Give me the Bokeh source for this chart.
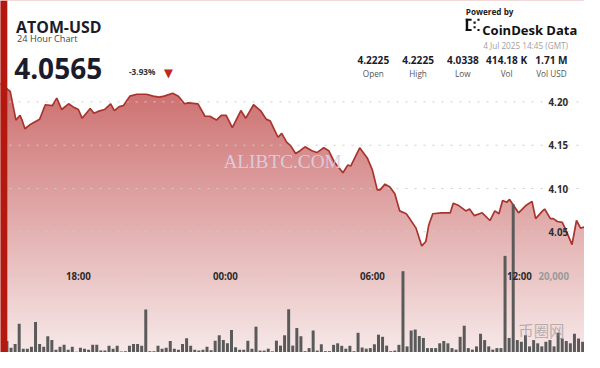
import numpy as np
from bokeh.plotting import figure
from bokeh.models import Range1d, Label, BoxAnnotation
from bokeh.core.properties import value
from bokeh.embed import file_html
from bokeh.resources import INLINE

# ---------------- data ----------------
# price line: minutes since 3 Jul 2025 14:45 (GMT), price in USD
price_min = [0, 28, 42, 52, 57, 64, 76, 88, 100, 114, 131, 142, 154, 171, 185, 195, 204, 224, 233, 243,
             259, 274, 283, 295, 305, 321, 338, 362, 378, 393, 405, 426, 440, 455, 464, 488, 505, 517, 533, 545,
             557, 572, 593, 605, 624, 641, 655, 665, 684, 693, 705, 715, 727, 738, 750, 767, 779, 796, 808, 822,
             843, 855, 862, 884, 903, 915, 927, 934, 946, 958, 970, 982, 998, 1005, 1022, 1036, 1046, 1053, 1063, 1084,
             1106, 1113, 1125, 1144, 1153, 1165, 1184, 1203, 1215, 1225, 1234, 1244, 1251, 1273, 1292, 1306, 1315, 1332, 1337, 1351,
             1358, 1368, 1380, 1387, 1404, 1415, 1425, 1440]
price_usd = [4.2225, 4.2121, 4.1790, 4.1845, 4.1790, 4.1690, 4.1735, 4.1768, 4.1800, 4.1967, 4.1956, 4.2044, 4.1912, 4.1978, 4.1934, 4.1912, 4.1812, 4.1923, 4.1868, 4.1890,
             4.1912, 4.1978, 4.1900, 4.1945, 4.1956, 4.2066, 4.2088, 4.2088, 4.2066, 4.2055, 4.2066, 4.2099, 4.2066, 4.1978, 4.1989, 4.1978, 4.1834, 4.1834, 4.1790, 4.1845,
             4.1845, 4.1702, 4.1900, 4.1812, 4.1967, 4.1900, 4.1801, 4.1779, 4.1592, 4.1636, 4.1536, 4.1492, 4.1404, 4.1437, 4.1481, 4.1437, 4.1415, 4.1470, 4.1437, 4.1305,
             4.1183, 4.1272, 4.1260, 4.1470, 4.1349, 4.1216, 4.0985, 4.0985, 4.1051, 4.1018, 4.0940, 4.0742, 4.0709, 4.0664, 4.0543, 4.0338, 4.0389, 4.0576, 4.0709, 4.0720,
             4.0720, 4.0830, 4.0808, 4.0742, 4.0764, 4.0687, 4.0720, 4.0631, 4.0742, 4.0709, 4.0863, 4.0841, 4.0874, 4.0720, 4.0808, 4.0852, 4.0653, 4.0742, 4.0764, 4.0653,
             4.0653, 4.0620, 4.0609, 4.0543, 4.0352, 4.0631, 4.0543, 4.0565]

# volume per 10-minute bar, first bar starting 15:00
volumes = [3000, 1250, 2250, 7500, 1000, 1000, 1500, 8000, 2250, 1500,
           4250, 3250, 750, 1500, 2000, 750, 1500, 200, 1250, 1000,
           750, 2000, 2000, 500, 500, 1750, 1000, 1750, 250, 300,
           1750, 2250, 2250, 1750, 11250, 300, 300, 1750, 1000, 1250,
           3000, 1000, 750, 2250, 3750, 1750, 750, 500, 750, 1500,
           600, 3100, 4500, 3250, 2400, 5900, 1400, 750, 750, 3100,
           1000, 6750, 500, 500, 1000, 300, 3100, 1800, 4500, 11300,
           1800, 6400, 4250, 350, 1150, 5750, 500, 2150, 350, 350,
           2000, 2400, 1750, 1000, 1750, 350, 5150, 1300, 1000, 1150,
           2150, 4650, 4100, 1800, 350, 500, 2000, 21250, 1600, 5750,
           6000, 4300, 3800, 1150, 1150, 1150, 2400, 3000, 2400, 1150,
           750, 4100, 7000, 1150, 750, 1600, 4900, 3250, 1600, 750,
           1150, 1150, 25250, 3800, 38750, 3250, 2800, 4500, 1600, 3250,
           2400, 1600, 2800, 3250, 1600, 5150, 3650, 3000, 2400, 4900,
           3650, 2800, 1600]
bar_start_min = 15 + 10 * np.arange(len(volumes))

price_ticks = [4.05, 4.10, 4.15, 4.20]
price_tick_labels = ["4.05", "4.10", "4.15", "4.20"]
time_tick_min = [195, 555, 915, 1275]
time_tick_labels = ["18:00", "00:00", "06:00", "12:00"]
vol_tick = 20000
vol_tick_label = "20,000"

stat_values = ["4.2225", "4.2225", "4.0338", "414.18 K", "1.71 M"]
stat_names = ["Open", "High", "Low", "Vol", "Vol USD"]

# ---------------- layout ----------------
W, H = 584, 352
RW, RH = 600.0, 368.0
FS = 0.965
X0, X1 = 4.2, 1434.6
Y0, Y1 = 3.9108, 4.317
V1 = 92000

def dx(px):
    return X0 + px / RW * (X1 - X0)

def dy(py):
    return Y1 - py / RH * (Y1 - Y0)

def fs(v):
    return f"{v * FS:.1f}px"

p = figure(width=W, height=H, output_backend="svg", toolbar_location=None,
           x_range=Range1d(X0, X1), y_range=Range1d(Y0, Y1),
           x_axis_location=None, y_axis_location=None,
           min_border=0, background_fill_color="white", border_fill_color="white")
p.grid.visible = False
p.outline_line_color = None
p.extra_y_ranges = {"vol": Range1d(0, V1)}

# gradient background bands, later masked above the price line
N = 140
edges = np.linspace(Y0, Y1, N + 1)
base = np.array([178, 34, 34])
cols = []
for k in range(N):
    mid = (edges[k] + edges[k + 1]) / 2
    py = (Y1 - mid) / (Y1 - Y0) * RH
    a = 0.66 - (py - 85) / 283.0 * 0.56
    a = min(max(a, 0.10), 0.66)
    c = (255 - a * (255 - base)).astype(int)
    cols.append("#%02x%02x%02x" % tuple(c))
step = (Y1 - Y0) / N
p.quad(left=X0 - 50, right=X1 + 50, bottom=edges[:-1], top=edges[:-1] + step * 1.3,
       fill_color=cols, line_color=None)
p.varea(x=price_min, y1=price_usd, y2=Y1 + 0.05, fill_color="white")

# dotted grid
for v in price_ticks:
    p.line(x=[X0, X1], y=[v, v], line_color="#cdcdcd", line_width=1, line_dash="2 7")
p.line(x=[X0, X1], y=[vol_tick, vol_tick], y_range_name="vol",
       line_color="#cdcdcd", line_width=1, line_dash="2 7")

# price line
p.line(x=price_min, y=price_usd, line_color="#a8342e", line_width=1.7)

# volume bars
p.vbar(x=bar_start_min + 5, top=volumes, bottom=0, width=7.3, y_range_name="vol",
       fill_color="#5a5a5a", line_color=None)

# tick labels
p.text(x=[dx(583)] * len(price_ticks), y=price_ticks, text=price_tick_labels,
       text_align="right", text_baseline="middle", text_font=value("Open Sans"),
       text_font_size=fs(10), text_font_style="bold", text_color="#2b2b2b")
p.text(x=time_tick_min, y=[dy(289)] * len(time_tick_min), text=time_tick_labels,
       text_align="center", text_baseline="middle", text_font=value("Open Sans"),
       text_font_size=fs(10), text_font_style="bold", text_color="#2b2b2b")
p.text(x=[dx(584)], y=[vol_tick], text=[vol_tick_label], y_range_name="vol",
       text_align="right", text_baseline="middle", text_font=value("Open Sans"),
       text_font_size=fs(10), text_font_style="bold", text_color="#9a9a9a")

# left red bar
p.add_layout(BoxAnnotation(left=X0 - 50, right=dx(7), fill_color="#b3190f", fill_alpha=1.0,
                           line_color=None))

def lab(x, y, text, size, color="#1b1b2b", bold=False, align="left", font="Open Sans",
        alpha=1.0, baseline="alphabetic"):
    p.add_layout(Label(x=dx(x), y=dy(y), text=text, text_font=font, text_font_size=fs(size),
                       text_font_style="bold" if bold else "normal", text_color=color,
                       text_align=align, text_baseline=baseline, text_alpha=alpha))

# watermarks
lab(229, 168, "ALIBTC.COM", 20, color="#dccde4", font="Liberation Serif", alpha=0.95)
lab(532, 344, "币圈网", 16, color="#7a7a7a", font="Noto Sans CJK SC", alpha=0.5,
    baseline="middle")

# header left
lab(16, 28, "ATOM-USD", 16.5, bold=True)
lab(17, 40, "24 Hour Chart", 9.5, color="#444444")
lab(14, 71, "4.0565", 29, bold=True)
lab(132, 74, "-3.93%", 8.5, bold=True, color="#333333")
lab(168, 76, "▼", 12, color="#c0281e", font="DejaVu Sans")

# header right
lab(478, 12, "Powered by", 8.5, bold=True, color="#222222")
lab(495, 31, "CoinDesk Data", 13.5, bold=True, color="#111111")
lab(583, 47, "4 Jul 2025 14:45 (GMT)", 8.5, color="#a0a0a0", align="right")
centers = [383, 429, 475, 520, 566]
for cx, v, n in zip(centers, stat_values, stat_names):
    lab(cx, 62, v, 10.5, bold=True, align="center", color="#1b1b2b")
    lab(cx, 76, n, 8.5, align="center", color="#555555")

# CoinDesk icon (small bracket shape)
def box(x0, x1, y0, y1, color="#111111"):
    p.add_layout(BoxAnnotation(left=dx(x0), right=dx(x1), top=dy(y0), bottom=dy(y1),
                               fill_color=color, fill_alpha=1.0, line_color=None))

box(478, 480.5, 19, 32)
box(478, 484, 19, 21.3)
box(478, 484, 29.7, 32)
box(486, 488.2, 22, 24.2)
box(486, 488.2, 26.8, 29)
box(490, 492.2, 19, 21.3)
box(490, 492.2, 29.7, 32)

open("out.html", "w").write(file_html(p, INLINE))
